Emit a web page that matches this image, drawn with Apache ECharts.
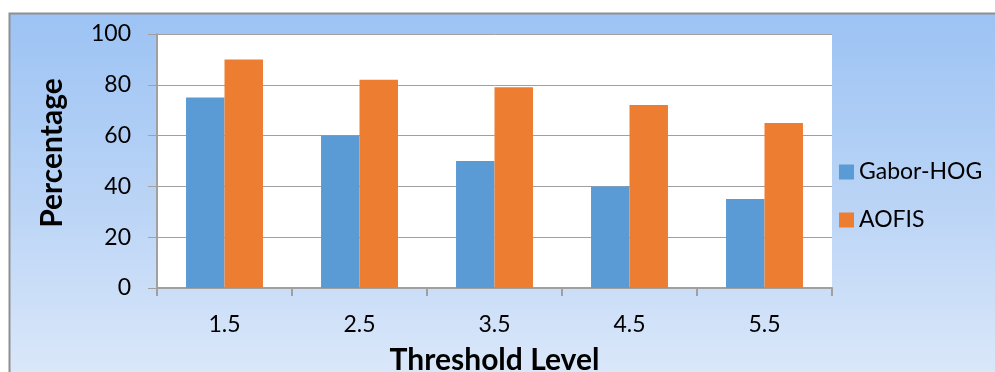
<!DOCTYPE html>
<html>
<head>
<meta charset="utf-8">
<script src="https://cdn.jsdelivr.net/npm/echarts@6/dist/echarts.min.js"></script>
<style>
html,body{margin:0;padding:0;background:#fff;}
#c{width:995px;height:372px;}
</style>
</head>
<body>
<div id="c"></div>
<script>
var categories = ['1.5', '2.5', '3.5', '4.5', '5.5'];
var gaborHog = [75, 60, 50, 40, 35];
var aofis = [90, 82, 79, 72, 65];
var seriesNames = ['Gabor-HOG', 'AOFIS'];
var yTicks = [0, 20, 40, 60, 80, 100];

var chart = echarts.init(document.getElementById('c'), null, {renderer: 'canvas'});
var font = 'Lato, "Open Sans", sans-serif';
chart.setOption({
  animation: false,
  backgroundColor: '#ffffff',
  graphic: [{
    type: 'rect', z: -100, silent: true,
    shape: {x: 9.5, y: 13.5, width: 1000, height: 400},
    style: {
      fill: new echarts.graphic.LinearGradient(0, 0, 0, 1, [
        {offset: 0, color: '#9cc3f4'},
        {offset: 0.5, color: '#bcd5f6'},
        {offset: 0.93, color: '#dde9fa'},
        {offset: 1, color: '#dfebfa'}
      ]),
      stroke: '#8f8f8f', lineWidth: 2
    }
  }],
  grid: {left: 157, right: 163, top: 34, bottom: 84, show: true, backgroundColor: '#ffffff', borderWidth: 0,
    containLabel: false, outerBoundsMode: 'none'},
  legend: {
    orient: 'vertical', left: 834, top: 155,
    itemWidth: 15, itemHeight: 15, itemGap: 24,
    icon: 'rect',
    data: seriesNames,
    textStyle: {fontFamily: font, fontSize: 23, color: '#000', lineHeight: 24}
  },
  xAxis: {
    type: 'category', data: categories,
    name: 'Threshold Level', nameLocation: 'middle', nameGap: 57,
    nameTextStyle: {fontFamily: font, fontSize: 30, fontWeight: 'bold', color: '#000'},
    axisLine: {lineStyle: {color: '#a0a0a0', width: 2}},
    axisTick: {show: true, length: 8, lineStyle: {color: '#a0a0a0', width: 2}},
    axisLabel: {fontFamily: font, fontSize: 23, color: '#000', margin: 25}
  },
  yAxis: {
    type: 'value', min: 0, max: 100, interval: 20,
    name: 'Percentage', nameLocation: 'middle', nameGap: 90, nameRotate: 90,
    nameTextStyle: {fontFamily: font, fontSize: 30, fontWeight: 'bold', color: '#000', padding: [0, 0, 0, 16]},
    axisLine: {show: true, lineStyle: {color: '#a0a0a0', width: 2}},
    axisTick: {show: true, length: 9, lineStyle: {color: '#a0a0a0', width: 1}},
    splitLine: {show: true, lineStyle: {color: '#a0a0a0', width: 1}},
    axisLabel: {fontFamily: font, fontSize: 23, color: '#000', margin: 26,
      formatter: function (v) { return yTicks.indexOf(v) >= 0 ? String(v) : ''; }}
  },
  series: [
    {name: seriesNames[0], type: 'bar', data: gaborHog, barGap: '0%', barCategoryGap: '43%',
     itemStyle: {color: '#5b9bd5'}},
    {name: seriesNames[1], type: 'bar', data: aofis, barGap: '0%', barCategoryGap: '43%',
     itemStyle: {color: '#ed7d31'}}
  ]
});
</script>
</body>
</html>
